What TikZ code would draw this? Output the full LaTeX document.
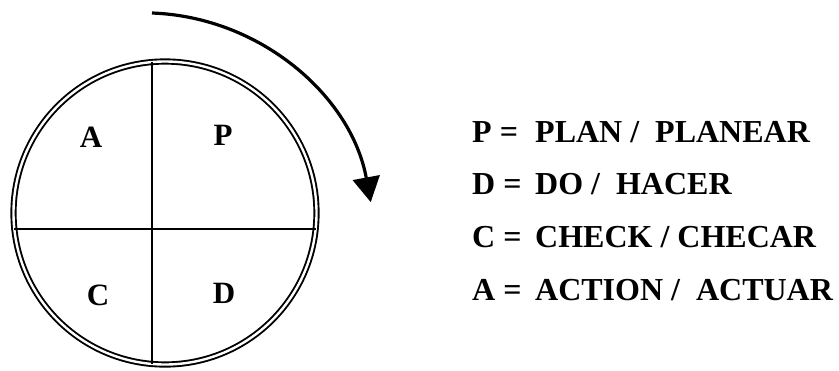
\documentclass[tikz,border=0pt]{standalone}
\usepackage{fontspec}
\setmainfont{Liberation Serif}
\usetikzlibrary{arrows.meta}
\tikzset{
  legend/.style={anchor=base west, inner sep=0pt, font=\fontsize{32bp}{38bp}\selectfont\bfseries},
  quad/.style={anchor=base, inner sep=0pt, font=\fontsize{31bp}{36bp}\selectfont\bfseries},
  ring/.style={circle, draw, double, double distance=2.4bp, line width=1.9bp, minimum size=303bp, inner sep=0pt},
  divider/.style={line width=1.5bp},
  cyclearrow/.style={line width=3.2bp, -{Triangle[width=27bp,length=25bp]}}
}
\newcommand{\lhead}[1]{\makebox[63bp][l]{#1}}
\begin{document}
\begin{tikzpicture}[x=1bp, y=-1bp]
\useasboundingbox (0,0) rectangle (839,370);
% ring
\node[ring] (cyc) at (165,213) {};
\coordinate (vtop) at (152,62.1);
\coordinate (vbot) at (152,363.9);
\coordinate (hleft) at (14.3,229);
\coordinate (hright) at (315.7,229);
\draw[divider] (vtop) -- (vbot);
\draw[divider] (hleft) -- (hright);
% quadrant letters
\node[quad] (qa) at (91,147) {A};
\node[quad] (qp) at (223,145) {P};
\node[quad] (qc) at (98,305) {C};
\node[quad] (qd) at (224,303) {D};
% rotation arrow
\coordinate (arcstart) at (152,13);
\draw[cyclearrow] (arcstart) arc[start angle=-87.9, end angle=-10.4, radius=231];
% legend
\node[legend] (lp) at (472,142) {\lhead{P =}PLAN /\ \ PLANEAR};
\node[legend] (ld) at (472,194) {\lhead{D =}DO /\ \ HACER};
\node[legend] (lc) at (472,247) {\lhead{C =}CHECK / CHECAR};
\node[legend] (la) at (472,300) {\lhead{A =}ACTION /\ \ ACTUAR};
\end{tikzpicture}
\end{document}
